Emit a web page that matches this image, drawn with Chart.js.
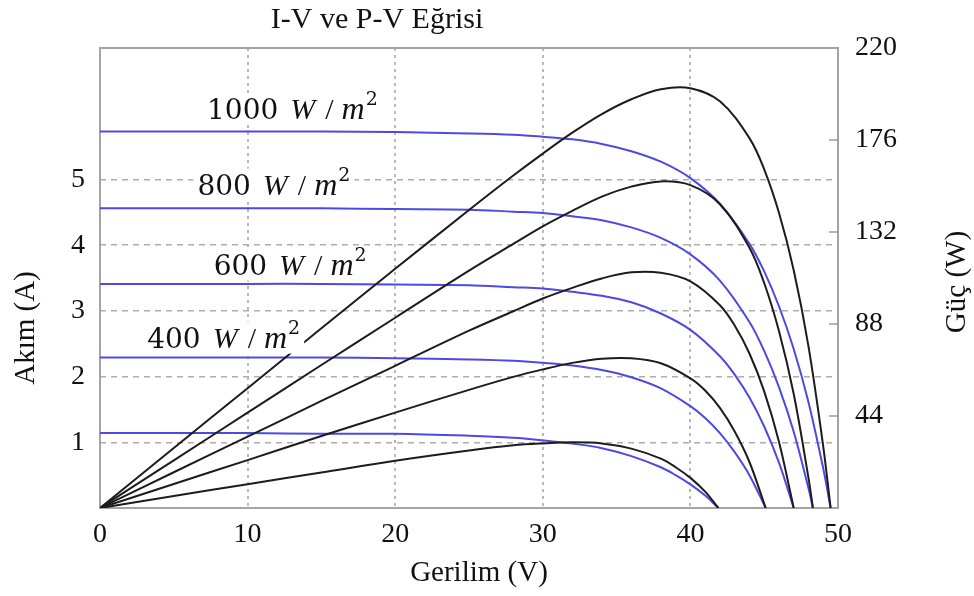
<!DOCTYPE html>
<html>
<head>
<meta charset="utf-8">
<title>I-V ve P-V Eğrisi</title>
<script src="https://cdn.jsdelivr.net/npm/chart.js@4/dist/chart.umd.min.js"></script>
<style>
    html, body { margin: 0; padding: 0; background: #fff; }
    #wrap { width: 974px; height: 596px; position: relative; }
</style>
</head>
<body>
<div id="wrap"><canvas id="ivChart"></canvas></div>
<script>
'use strict'

// irradiance levels (W/m2), one I-V and one P-V curve each
const irradiance = [1000, 800, 600, 400, 200];

// voltage (V), current (A), power (W) per irradiance
const v1000 = [0, 5, 10, 15, 20, 25, 28, 30, 32, 34, 36, 38, 40, 42, 44, 45, 46, 47, 48, 49, 49.5];
const i1000 = [5.73, 5.73, 5.73, 5.73, 5.72, 5.70, 5.68, 5.65, 5.61, 5.54, 5.43, 5.27, 5.02, 4.63, 4.02, 3.60, 3.07, 2.42, 1.61, 0.60, 0];
const p1000 = [0, 28.7, 57.3, 86.0, 114.4, 142.5, 159.0, 169.5, 179.5, 188.4, 195.5, 200.3, 200.8, 194.5, 176.9, 162.0, 141.2, 113.7, 77.3, 29.4, 0];

const v800 = [0, 5, 10, 15, 20, 25, 28, 30, 32, 34, 36, 38, 40, 42, 44, 45, 46, 47, 48, 48.3];
const i800 = [4.56, 4.56, 4.56, 4.56, 4.55, 4.54, 4.51, 4.49, 4.44, 4.38, 4.27, 4.11, 3.86, 3.46, 2.83, 2.39, 1.84, 1.16, 0.30, 0];
const p800 = [0, 22.8, 45.6, 68.4, 91.0, 113.5, 126.3, 134.7, 142.1, 148.9, 153.7, 156.2, 154.4, 145.3, 124.5, 107.6, 84.6, 54.5, 14.4, 0];

const v600 = [0, 5, 10, 15, 20, 25, 28, 30, 32, 34, 36, 38, 40, 42, 43, 44, 45, 46, 47];
const i600 = [3.41, 3.41, 3.41, 3.41, 3.40, 3.39, 3.36, 3.34, 3.29, 3.23, 3.13, 2.96, 2.71, 2.31, 2.03, 1.68, 1.24, 0.69, 0];
const p600 = [0, 17.1, 34.1, 51.2, 68.0, 84.8, 94.1, 100.2, 105.3, 109.8, 112.7, 112.5, 108.4, 97.0, 87.3, 73.9, 55.8, 31.7, 0];

const v400 = [0, 5, 10, 15, 20, 25, 28, 30, 32, 34, 36, 38, 40, 41, 42, 43, 44, 45.1];
const i400 = [2.29, 2.29, 2.29, 2.29, 2.28, 2.26, 2.24, 2.21, 2.17, 2.10, 1.99, 1.82, 1.55, 1.37, 1.14, 0.85, 0.50, 0];
const p400 = [0, 11.5, 22.9, 34.4, 45.6, 56.5, 62.7, 66.3, 69.4, 71.4, 71.6, 69.2, 62.0, 56.2, 47.9, 36.6, 22.0, 0];

const v200 = [0, 5, 10, 15, 20, 25, 28, 30, 32, 34, 36, 38, 39, 40, 41, 41.9];
const i200 = [1.14, 1.14, 1.14, 1.13, 1.13, 1.10, 1.07, 1.03, 0.98, 0.91, 0.79, 0.62, 0.50, 0.36, 0.19, 0];
const p200 = [0, 5.7, 11.4, 17.0, 22.6, 27.5, 30.0, 30.9, 31.4, 30.9, 28.4, 23.6, 19.5, 14.4, 7.8, 0];

// curve labels: irradiance text anchored at (voltage, current)
const labelIrradiance = [1000, 800, 600, 400];
const labelVoltage = [7.25, 6.6, 7.7, 3.2];
const labelCurrent = [5.92, 4.77, 3.55, 2.44];

const voltages = [v1000, v800, v600, v400, v200];
const currents = [i1000, i800, i600, i400, i200];
const powers = [p1000, p800, p600, p400, p200];

const SERIF = '"Liberation Serif", "Times New Roman", serif';
const BLUE = '#4c4ae2';
const BLACK = '#1c1c1c';

const toPoints = (xs, ys) => xs.map((x, k) => ({ x: x, y: ys[k] }));

let datasets = [];
irradiance.forEach((g, k) => {
    datasets.push({
        label: 'I-V ' + g,
        data: toPoints(voltages[k], currents[k]),
        yAxisID: 'y',
        borderColor: BLUE,
        borderWidth: 2,
        order: 2
    });
    datasets.push({
        label: 'P-V ' + g,
        data: toPoints(voltages[k], powers[k]),
        yAxisID: 'y2',
        borderColor: BLACK,
        borderWidth: 2,
        order: 1
    });
});

// "1000 W/m²" style label with italic units and a superscript
function drawIrradianceLabel(ctx, x, y, value) {
    ctx.save();
    ctx.textBaseline = 'alphabetic';
    ctx.textAlign = 'left';

    const pieces = [
        { text: String(value), font: '28px "DejaVu Serif"', gap: 12, rise: 0 },
        { text: 'W', font: 'italic 30px ' + SERIF, gap: 10, rise: 0 },
        { text: '/', font: '30px ' + SERIF, gap: 8, rise: 0 },
        { text: 'm', font: 'italic 32px ' + SERIF, gap: 1, rise: 0 },
        { text: '2', font: '19px "DejaVu Serif"', gap: 0, rise: 14 }
    ];

    let total = 0;
    pieces.forEach(p => {
        ctx.font = p.font;
        p.width = ctx.measureText(p.text).width;
        total += p.width + p.gap;
    });

    ctx.fillStyle = '#fff';
    ctx.fillRect(x - 4, y - 26, total + 8, 32);

    ctx.fillStyle = '#111';
    let cx = x;
    pieces.forEach(p => {
        ctx.font = p.font;
        ctx.fillText(p.text, cx, y - p.rise);
        cx += p.width + p.gap;
    });
    ctx.restore();
}

const decorations = {
    id: 'decorations',
    beforeDatasetsDraw(chart) {
        const { ctx, chartArea: a } = chart;
        ctx.save();
        ctx.strokeStyle = '#a4a4a4';
        ctx.lineWidth = 2;
        ctx.strokeRect(a.left, a.top, a.right - a.left, a.bottom - a.top);

        // short ticks on the inside of the right border
        const y2 = chart.scales.y2;
        ctx.strokeStyle = '#9a9a9a';
        ctx.lineWidth = 1.5;
        y2.ticks.forEach(t => {
            if (t.value <= 0 || t.value >= 220) return;
            const py = y2.getPixelForValue(t.value);
            ctx.beginPath();
            ctx.moveTo(a.right - 9, py);
            ctx.lineTo(a.right, py);
            ctx.stroke();
        });
        ctx.restore();
    },
    afterDatasetsDraw(chart) {
        const { ctx, scales } = chart;
        labelIrradiance.forEach((g, k) => {
            drawIrradianceLabel(ctx,
                scales.x.getPixelForValue(labelVoltage[k]),
                scales.y.getPixelForValue(labelCurrent[k]),
                g);
        });
    },
    afterDraw(chart) {
        const ctx = chart.ctx;
        ctx.save();
        ctx.fillStyle = '#111';
        ctx.textAlign = 'center';
        ctx.textBaseline = 'middle';

        ctx.font = '30px ' + SERIF;
        ctx.fillText('I-V ve P-V Eğrisi', 377, 20);

        ctx.font = '29px ' + SERIF;
        ctx.fillText('Gerilim (V)', 479, 573);

        ctx.save();
        ctx.translate(26, 328);
        ctx.rotate(-Math.PI / 2);
        ctx.fillText('Akım (A)', 0, 0);
        ctx.restore();

        ctx.save();
        ctx.translate(957, 282);
        ctx.rotate(-Math.PI / 2);
        ctx.fillText('Güç (W)', 0, 0);
        ctx.restore();

        ctx.restore();
    }
};

const tickFont = { family: SERIF, size: 28 };

new Chart(document.getElementById('ivChart'), {
    type: 'line',
    data: { datasets: datasets },
    options: {
        responsive: true,
        maintainAspectRatio: false,
        devicePixelRatio: 1,
        animation: false,
        layout: { padding: { top: 48, left: 0, right: 0, bottom: 0 } },
        elements: {
            point: { radius: 0 },
            line: { tension: 0.35, fill: false }
        },
        plugins: {
            legend: { display: false },
            tooltip: { enabled: false },
            title: { display: false }
        },
        scales: {
            x: {
                type: 'linear',
                min: 0,
                max: 50,
                afterFit: s => { s.height = 88; },
                ticks: { stepSize: 10, font: tickFont, color: '#111', padding: 10, maxRotation: 0 },
                grid: {
                    drawTicks: false,
                    lineWidth: 2,
                    color: c => (c.tick && c.tick.value > 0 && c.tick.value < 50) ? '#b8b8b8' : 'rgba(0,0,0,0)'
                },
                border: { display: false, dash: [3, 4] }
            },
            y: {
                position: 'left',
                min: 0,
                max: 7,
                afterFit: s => { s.width = 100; },
                ticks: {
                    stepSize: 1,
                    font: tickFont,
                    color: '#111',
                    padding: 15,
                    callback: v => (v >= 1 && v <= 5) ? v : ''
                },
                grid: {
                    drawTicks: false,
                    lineWidth: 1.5,
                    color: c => (c.tick && c.tick.value >= 1 && c.tick.value <= 5) ? '#adadad' : 'rgba(0,0,0,0)'
                },
                border: { display: false, dash: [6, 5] }
            },
            y2: {
                position: 'right',
                min: 0,
                max: 220,
                afterFit: s => { s.width = 136; },
                ticks: {
                    stepSize: 44,
                    font: tickFont,
                    color: '#111',
                    padding: 17,
                    callback: v => v === 0 ? '' : v
                },
                grid: { drawOnChartArea: false, drawTicks: false },
                border: { display: false }
            }
        }
    },
    plugins: [decorations]
});
</script>
</body>
</html>
